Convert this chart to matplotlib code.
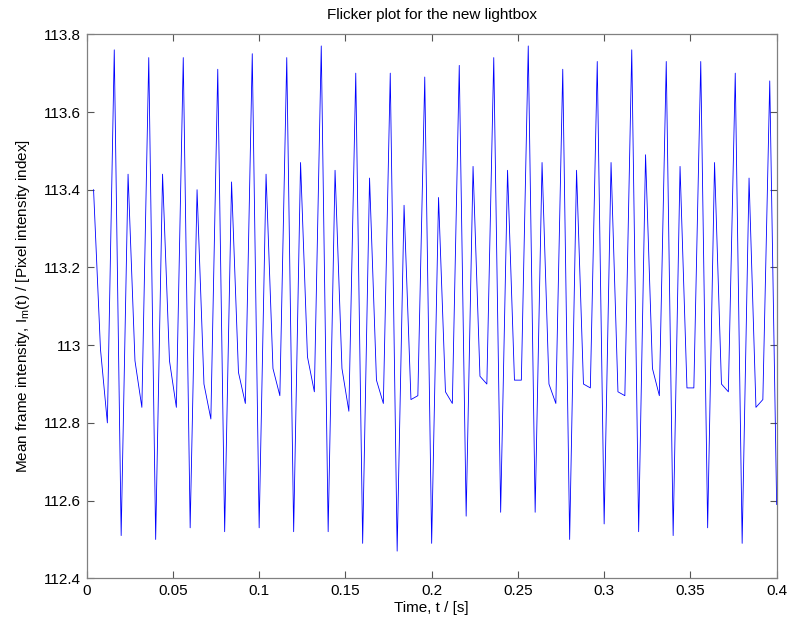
import numpy as np
import matplotlib
matplotlib.use("Agg")
from matplotlib import pyplot as plt
from matplotlib.ticker import FuncFormatter

plt.rcParams["font.family"] = ["Liberation Sans", "DejaVu Sans"]
plt.rcParams["mathtext.default"] = "regular"

# camera frames at 250 fps, first frame at t = 1/250 s
frame_rate = 250
n_frames = 100

# mean frame intensity per frame
intensity = [
    113.40, 112.99, 112.80, 113.76, 112.51,
    113.44, 112.96, 112.84, 113.74, 112.50,
    113.44, 112.96, 112.84, 113.74, 112.53,
    113.40, 112.90, 112.81, 113.71, 112.52,
    113.42, 112.93, 112.85, 113.75, 112.53,
    113.44, 112.94, 112.87, 113.74, 112.52,
    113.47, 112.97, 112.88, 113.77, 112.52,
    113.45, 112.94, 112.83, 113.70, 112.49,
    113.43, 112.91, 112.85, 113.70, 112.47,
    113.36, 112.86, 112.87, 113.69, 112.49,
    113.38, 112.88, 112.85, 113.72, 112.56,
    113.46, 112.92, 112.90, 113.74, 112.57,
    113.45, 112.91, 112.91, 113.77, 112.57,
    113.47, 112.90, 112.85, 113.71, 112.50,
    113.45, 112.90, 112.89, 113.73, 112.54,
    113.47, 112.88, 112.87, 113.76, 112.52,
    113.49, 112.94, 112.87, 113.73, 112.51,
    113.46, 112.89, 112.89, 113.73, 112.53,
    113.47, 112.90, 112.88, 113.70, 112.49,
    113.43, 112.84, 112.86, 113.68, 112.59,
]

x_ticks = [0, 0.05, 0.1, 0.15, 0.2, 0.25, 0.3, 0.35, 0.4]
y_ticks = [112.4, 112.6, 112.8, 113.0, 113.2, 113.4, 113.6, 113.8]

t = np.arange(1, n_frames + 1) / frame_rate

fig = plt.figure(figsize=(7.9, 6.28), dpi=100)
ax = fig.add_axes([0.1097, 0.0791, 0.8734, 0.8663])

ax.plot(t, intensity, color="#0000ff", linewidth=0.6)

ax.set_xlim(0, 0.4)
ax.set_ylim(112.4, 113.8)
ax.set_xticks(x_ticks)
ax.set_yticks(y_ticks)
fmt = FuncFormatter(lambda v, p: "%g" % round(v, 4))
ax.xaxis.set_major_formatter(fmt)
ax.yaxis.set_major_formatter(fmt)

ax.tick_params(direction="in", length=5, width=0.8, colors="#555555",
               labelcolor="black", labelsize=11, top=True, right=True, pad=4)
for s in ax.spines.values():
    s.set_color("#808080")
    s.set_linewidth(0.9)

ax.set_title("Flicker plot for the new lightbox", fontsize=11, pad=11)
ax.set_xlabel("Time, t / [s]", fontsize=11, labelpad=2)
ax.set_ylabel(r"Mean frame intensity, I$_m$(t) / [Pixel intensity index]",
              fontsize=11, labelpad=9)

fig.savefig("out.png", dpi=100)
